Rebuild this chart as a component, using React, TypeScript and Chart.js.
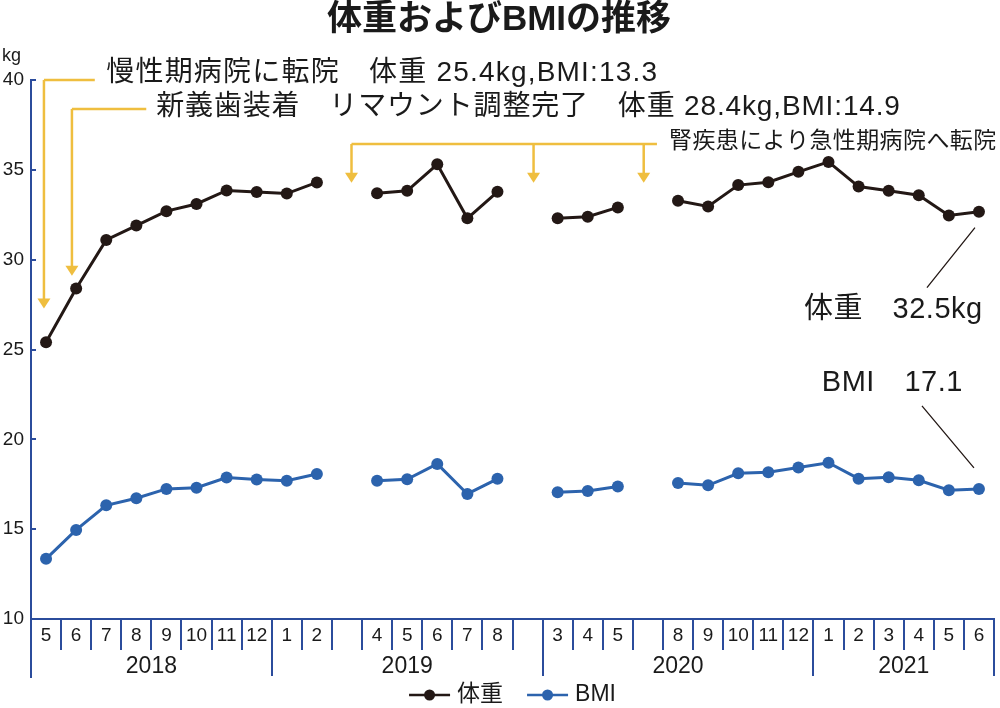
import React, { useEffect, useRef } from 'react';
import { Chart, registerables } from 'chart.js';

Chart.register(...registerables);

// ---------- data ----------
const monthLabels = ['5', '6', '7', '8', '9', '10', '11', '12', '1', '2', '', '4', '5', '6', '7', '8', '', '3', '4', '5', '', '8', '9', '10', '11', '12', '1', '2', '3', '4', '5', '6'];
const weightKg = [25.4, 28.4, 31.1, 31.9, 32.7, 33.1, 33.85, 33.76, 33.68, 34.3, null, 33.7, 33.83, 35.31, 32.3, 33.78, null, 32.3, 32.39, 32.91, null, 33.28, 32.96, 34.15, 34.31, 34.89, 35.44, 34.07, 33.83, 33.59, 32.46, 32.67];
const bmiValues = [13.35, 14.96, 16.33, 16.72, 17.24, 17.31, 17.87, 17.76, 17.69, 18.07, null, 17.7, 17.78, 18.63, 16.96, 17.8, null, 17.06, 17.13, 17.37, null, 17.57, 17.44, 18.11, 18.17, 18.43, 18.7, 17.81, 17.89, 17.72, 17.17, 17.24];
const years = ['2018', '2019', '2020', '2021'];
const yearFirstIndex = [0, 8, 17, 26];
const seriesNames = ['体重', 'BMI'];
const yMin = 10;
const yMax = 40;
const yStep = 5;
const yUnit = 'kg';

const titleText = '体重およびBMIの推移';
const note1 = '慢性期病院に転院　体重 25.4kg,BMI:13.3';
const note2 = '新義歯装着　リマウント調整完了　体重 28.4kg,BMI:14.9';
const note3 = '腎疾患により急性期病院へ転院';
const weightNote = '体重　32.5kg';
const bmiNote = 'BMI　17.1';

// ---------- styles ----------
const FONT = "'Liberation Sans', 'Noto Sans CJK JP', sans-serif";
const AXIS = '#2b4c9c';
const WEIGHT_COLOR = '#231815';
const BMI_COLOR = '#2c63ad';
const NOTE_COLOR = '#efbe3f';
const TEXT = '#1a1a1a';

const decorPlugin = {
  id: 'decor',
  afterDraw(chart: any) {
    const { ctx, chartArea: ca, scales } = chart;
    const x = scales.x;
    const y = scales.y;
    const n = chart.data.labels.length;
    const half = (x.getPixelForValue(1) - x.getPixelForValue(0)) / 2;
    const edge = (i: number) => x.getPixelForValue(i) - half;
    const px = (p: number) => x.getPixelForValue(p);
    const py = (v: number) => y.getPixelForValue(v);

    ctx.save();
    // axis extensions and inward y ticks
    ctx.strokeStyle = AXIS;
    ctx.lineWidth = 2;
    ctx.beginPath();
    ctx.moveTo(ca.left, ca.bottom);
    ctx.lineTo(ca.left, ca.bottom + 59);
    [...yearFirstIndex.slice(1), n].forEach((i) => {
      const e = Math.round(edge(i));
      ctx.moveTo(e, ca.bottom);
      ctx.lineTo(e, ca.bottom + 57);
    });
    y.ticks.forEach((t: any) => {
      const yy = Math.round(py(t.value));
      ctx.moveTo(ca.left, yy);
      ctx.lineTo(ca.left + 5, yy);
    });
    ctx.stroke();

    // year labels
    ctx.fillStyle = TEXT;
    ctx.font = `23px ${FONT}`;
    ctx.textAlign = 'center';
    ctx.textBaseline = 'middle';
    years.forEach((yr, k) => {
      const a = edge(yearFirstIndex[k]);
      const b = edge(k + 1 < yearFirstIndex.length ? yearFirstIndex[k + 1] : n);
      ctx.fillText(yr, (a + b) / 2, ca.bottom + 48);
    });

    // unit label
    ctx.font = `18px ${FONT}`;
    ctx.textAlign = 'left';
    ctx.textBaseline = 'alphabetic';
    ctx.fillText(yUnit, 2, 61);

    // title
    ctx.font = `bold 35px ${FONT}`;
    ctx.textAlign = 'center';
    ctx.textBaseline = 'middle';
    ctx.fillText(titleText, chart.width / 2 - 1, 20);

    // yellow annotations
    ctx.strokeStyle = NOTE_COLOR;
    ctx.fillStyle = NOTE_COLOR;
    ctx.lineWidth = 2.5;
    const arrow = (xx: number, yTop: number, yTip: number) => {
      ctx.beginPath();
      ctx.moveTo(xx, yTop);
      ctx.lineTo(xx, yTip - 8);
      ctx.stroke();
      ctx.beginPath();
      ctx.moveTo(xx - 6.5, yTip - 10);
      ctx.lineTo(xx + 6.5, yTip - 10);
      ctx.lineTo(xx, yTip);
      ctx.closePath();
      ctx.fill();
    };
    const hline = (x1: number, x2: number, yy: number) => {
      ctx.beginPath();
      ctx.moveTo(x1, yy);
      ctx.lineTo(x2, yy);
      ctx.stroke();
    };
    // note 1
    hline(px(-0.07), px(1.62), py(40));
    arrow(px(-0.07), py(40), py(27.28));
    // note 2
    hline(px(0.86), px(3.33), py(38.39));
    arrow(px(0.86), py(38.39), py(29.11));
    // note 3
    hline(px(10.15), px(20.3), py(36.44));
    [10.15, 16.2, 19.86].forEach((p) => arrow(px(p), py(36.44), py(34.28)));

    ctx.fillStyle = TEXT;
    ctx.textAlign = 'left';
    ctx.textBaseline = 'middle';
    ctx.font = `28px ${FONT}`;
    (ctx as any).letterSpacing = '1.2px';
    ctx.fillText(note1, px(2.0), py(40.39));
    (ctx as any).letterSpacing = '0.85px';
    ctx.fillText(note2, px(3.66), py(38.5));
    (ctx as any).letterSpacing = '0.4px';
    ctx.font = `23px ${FONT}`;
    ctx.fillText(note3, px(20.7), py(36.56));

    // end-value callouts
    const wMeta = chart.getDatasetMeta(0).data;
    const bMeta = chart.getDatasetMeta(1).data;
    const wLast = wMeta[wMeta.length - 1];
    const bLast = bMeta[bMeta.length - 1];
    ctx.strokeStyle = WEIGHT_COLOR;
    ctx.lineWidth = 1.3;
    ctx.beginPath();
    ctx.moveTo(wLast.x - 4, wLast.y + 16);
    ctx.lineTo(wLast.x - 52, wLast.y + 76);
    ctx.moveTo(bLast.x - 5, bLast.y - 21);
    ctx.lineTo(bLast.x - 57, bLast.y - 83);
    ctx.stroke();
    (ctx as any).letterSpacing = '0.5px';
    ctx.font = `29px ${FONT}`;
    ctx.fillText(weightNote, px(25.19), py(27.22));
    ctx.fillText(bmiNote, px(25.78), py(23.11));
    (ctx as any).letterSpacing = '0px';

    // legend
    ctx.font = `23px ${FONT}`;
    const ly = 695;
    const items = chart.data.datasets.map((ds: any) => ({
      label: ds.label,
      color: ds.borderColor,
      w: 48 + ctx.measureText(ds.label).width,
    }));
    const gap = 24;
    const total = items.reduce((s: number, it: any) => s + it.w, 0) + gap * (items.length - 1);
    let lx = (ca.left + ca.right) / 2 - total / 2;
    items.forEach((it: any) => {
      ctx.strokeStyle = it.color;
      ctx.fillStyle = it.color;
      ctx.lineWidth = 2.5;
      ctx.beginPath();
      ctx.moveTo(lx, ly);
      ctx.lineTo(lx + 41, ly);
      ctx.stroke();
      ctx.beginPath();
      ctx.arc(lx + 20.5, ly, 5.5, 0, Math.PI * 2);
      ctx.fill();
      ctx.fillStyle = TEXT;
      ctx.fillText(it.label, lx + 48, ly);
      lx += it.w + gap;
    });
    ctx.restore();
  },
};

export default function App() {
  const canvasRef = useRef<HTMLCanvasElement | null>(null);

  useEffect(() => {
    document.body.style.margin = '0';
    const canvas = canvasRef.current;
    if (!canvas) return;
    const chart = new Chart(canvas, {
      type: 'line',
      data: {
        labels: monthLabels,
        datasets: [
          {
            label: seriesNames[0],
            data: weightKg,
            borderColor: WEIGHT_COLOR,
            backgroundColor: WEIGHT_COLOR,
            pointBackgroundColor: WEIGHT_COLOR,
            borderWidth: 3,
            pointRadius: 6,
            pointBorderWidth: 0,
            tension: 0,
            spanGaps: false,
          },
          {
            label: seriesNames[1],
            data: bmiValues,
            borderColor: BMI_COLOR,
            backgroundColor: BMI_COLOR,
            pointBackgroundColor: BMI_COLOR,
            borderWidth: 3,
            pointRadius: 6,
            pointBorderWidth: 0,
            tension: 0,
            spanGaps: false,
          },
        ],
      },
      options: {
        responsive: false,
        animation: false,
        devicePixelRatio: 1,
        layout: { padding: { top: 80, left: 0, right: 1, bottom: 0 } },
        plugins: {
          legend: { display: false },
          title: { display: false },
          tooltip: { enabled: false },
        },
        scales: {
          x: {
            type: 'category',
            offset: true,
            grid: {
              display: true,
              offset: true,
              drawOnChartArea: false,
              drawTicks: true,
              tickLength: 31,
              color: AXIS,
              lineWidth: 2,
            },
            border: { display: true, color: AXIS, width: 2 },
            ticks: {
              autoSkip: false,
              maxRotation: 0,
              padding: -26,
              color: TEXT,
              font: { family: FONT, size: 19 },
            },
            afterFit: (scale: any) => {
              scale.height = 89;
            },
          },
          y: {
            min: yMin,
            max: yMax,
            grid: { display: false, drawTicks: false, tickLength: 0 },
            border: { display: true, color: AXIS, width: 2 },
            ticks: {
              stepSize: yStep,
              padding: 7,
              color: TEXT,
              font: { family: FONT, size: 19 },
            },
            afterFit: (scale: any) => {
              scale.width = 31;
            },
          },
        },
      },
      plugins: [decorPlugin],
    });
    return () => chart.destroy();
  }, []);

  return <canvas ref={canvasRef} width={1000} height={708} style={{ display: 'block' }} />;
}
